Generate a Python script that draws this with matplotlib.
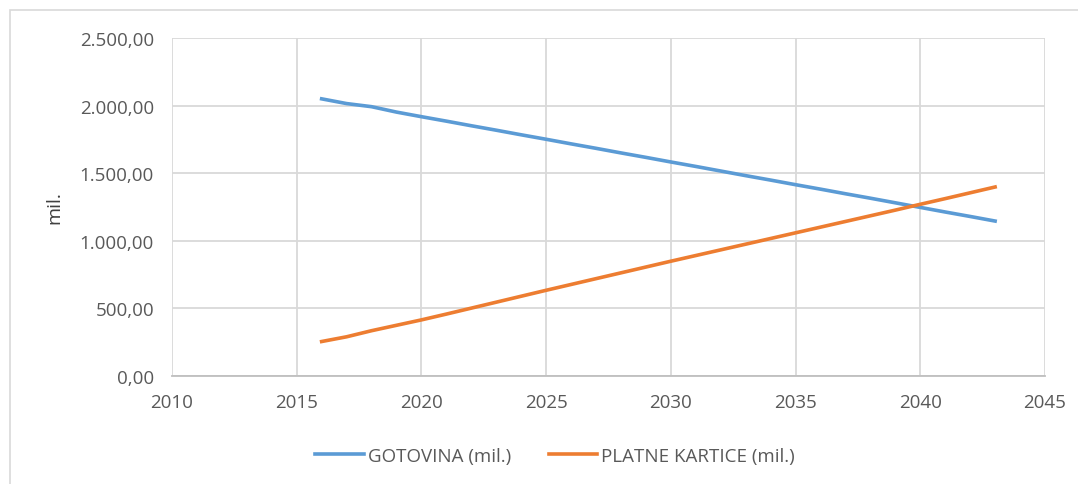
import matplotlib.pyplot as plt
from matplotlib.patches import Rectangle
from matplotlib.ticker import FuncFormatter

plt.rcParams['font.family'] = ['Open Sans', 'DejaVu Sans']

years = list(range(2016, 2044))
gotovina = [2050, 2015, 1992, 1952, 1918, 1885, 1851, 1818, 1784, 1751,
            1717, 1684, 1650, 1617, 1583, 1550, 1516, 1482, 1449, 1415,
            1382, 1348, 1315, 1281, 1247, 1213, 1180, 1146]
kartice = [255, 290, 335, 375, 415, 458, 502, 546, 590, 634,
           677, 720, 763, 806, 849, 891, 933, 975, 1017, 1059,
           1101, 1143, 1185, 1227, 1270, 1312, 1355, 1398]
labels = ['GOTOVINA (mil.)', 'PLATNE KARTICE (mil.)']


def hr_format(v, pos):
    # 2500 -> 2.500,00
    s = f"{v:,.2f}"
    return s.replace(',', 'X').replace('.', ',').replace('X', '.')


fig = plt.figure(figsize=(10.78, 4.85), dpi=100)
# outer chart frame (cut off on the right and bottom)
fig.patches.append(Rectangle((10 / 1078, -0.1), 1.2, 1 - 11 / 485 + 0.1,
                             transform=fig.transFigure, fill=False,
                             edgecolor='#d9d9d9', linewidth=1.2))

ax = fig.add_axes([172 / 1078, 1 - 377 / 485, (1045 - 172) / 1078, (377 - 39) / 485])
ax.plot(years, gotovina, color='#5b9bd5', linewidth=2.6, label=labels[0])
ax.plot(years, kartice, color='#ed7d31', linewidth=2.6, label=labels[1])

ax.set_xlim(2010, 2045)
ax.set_ylim(0, 2500)
ax.set_xticks(range(2010, 2046, 5))
ax.set_yticks(range(0, 2501, 500))
ax.yaxis.set_major_formatter(FuncFormatter(hr_format))
ax.grid(True, color='#d9d9d9', linewidth=1.3)
ax.set_axisbelow(True)
for side in ['top', 'right', 'left']:
    ax.spines[side].set_visible(False)
ax.spines['bottom'].set_color('#bfbfbf')
ax.spines['bottom'].set_linewidth(1.3)
ax.tick_params(length=0, labelsize=13.5, labelcolor='#595959')
ax.tick_params(axis='y', pad=13)
ax.tick_params(axis='x', pad=12)
ax.set_ylabel('mil.', fontsize=14, color='#404040', labelpad=12)

fig.legend(loc='center', bbox_to_anchor=(0.515, 1 - 457 / 485), ncol=2,
           frameon=False, fontsize=13.5, handlelength=2.6, handletextpad=0.2,
           columnspacing=2.0, labelcolor='#595959')

fig.savefig('out.png', dpi=100)
